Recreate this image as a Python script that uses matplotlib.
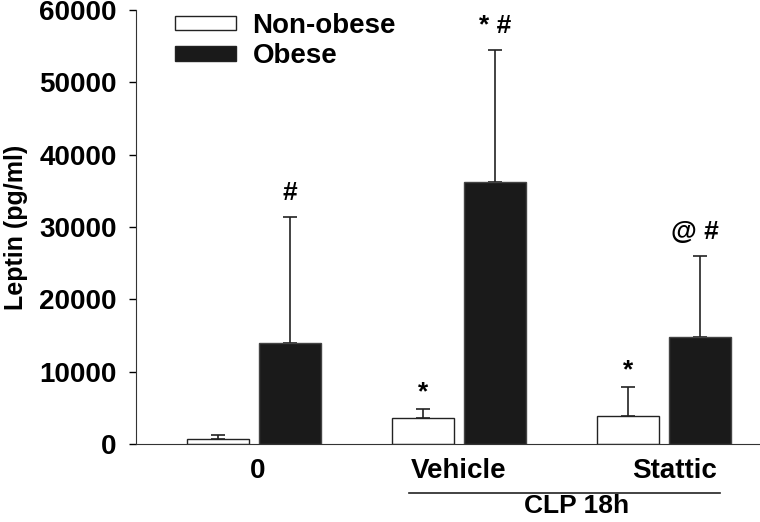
"""
Leptin levels in non-obese vs obese mice, baseline and after CLP 18h.
"""

import numpy as np
import matplotlib.pyplot as plt
from matplotlib.patches import Patch

plt.rcParams["font.family"] = ["Liberation Sans", "DejaVu Sans"]
plt.rcParams["font.weight"] = "bold"

# Data (pg/ml)
groups = ["0", "Vehicle", "Stattic"]
nonobese_mean = [750, 3570, 3940]
nonobese_err = [480, 1240, 3920]
obese_mean = [14000, 36250, 14870]
obese_err = [17350, 18250, 11150]
nonobese_marks = ["", "*", "*"]
obese_marks = ["#", "* #", "@ #"]

x = np.arange(len(groups))
width = 0.302
off = 0.176

fig = plt.figure(figsize=(7.6, 5.22), dpi=100)
ax = fig.add_axes([0.179, 0.149, 0.821, 0.832])

ax.bar(x - off, nonobese_mean, width, color="white", edgecolor="#222222",
       linewidth=1.0, label="Non-obese", zorder=2)
ax.bar(x + off, obese_mean, width, color="#1a1a1a", edgecolor="#444444",
       linewidth=1.0, label="Obese", zorder=2)
ax.errorbar(x - off, nonobese_mean, yerr=[np.zeros(3), nonobese_err],
            fmt="none", ecolor="#222222", elinewidth=1.2, capsize=5,
            capthick=1.2, zorder=1)
ax.errorbar(x + off, obese_mean, yerr=[np.zeros(3), obese_err],
            fmt="none", ecolor="#222222", elinewidth=1.2, capsize=5,
            capthick=1.2, zorder=1)

# significance marks above the error bars
for i in range(len(groups)):
    if nonobese_marks[i]:
        ax.annotate(nonobese_marks[i], (x[i] - off, nonobese_mean[i] + nonobese_err[i]),
                    xytext=(0, 17), textcoords="offset pixels",
                    ha="center", va="center", fontsize=19)
    ax.annotate(obese_marks[i], (x[i] + off, obese_mean[i] + obese_err[i]),
                xytext=(-6 if i == 2 else 0, 24), textcoords="offset pixels",
                ha="center", va="center", fontsize=19)

ax.set_xlim(-0.573, 2.466)
ax.set_ylim(0, 60000)
ax.set_yticks(np.arange(0, 60001, 10000))
ax.set_xticks([0.02, 1.0, 2.05])
ax.set_xticklabels(groups, fontsize=20, fontweight="bold")
ax.tick_params(axis="x", length=0, pad=10)
ax.tick_params(axis="y", labelsize=20, length=5, width=1, pad=9)
for lab in ax.get_yticklabels():
    lab.set_fontweight("bold")
ax.spines["top"].set_visible(False)
ax.spines["right"].set_visible(False)
ax.spines["left"].set_color("#333333")
ax.spines["bottom"].set_color("#333333")
ax.set_ylabel("Leptin (pg/ml)", fontsize=18, fontweight="bold", labelpad=8)

# CLP 18h bracket under the treatment groups
trans = ax.get_xaxis_transform()
ax.plot([0.757, 2.272], [-0.113, -0.113], color="#222222", lw=1.2,
        transform=trans, clip_on=False)
ax.text(1.575, -0.143, "CLP 18h", transform=trans, ha="center", va="center",
        fontsize=19, fontweight="bold")

handles = [Patch(facecolor="white", edgecolor="#222222", label="Non-obese"),
           Patch(facecolor="#1a1a1a", edgecolor="#222222", label="Obese")]
ax.legend(handles=handles, loc="upper left", bbox_to_anchor=(0.022, 1.05),
          frameon=False, handlelength=2.2, handleheight=0.42,
          labelspacing=0.15, handletextpad=0.6,
          prop={"weight": "bold", "size": 20})

plt.savefig("out.png", dpi=100)
